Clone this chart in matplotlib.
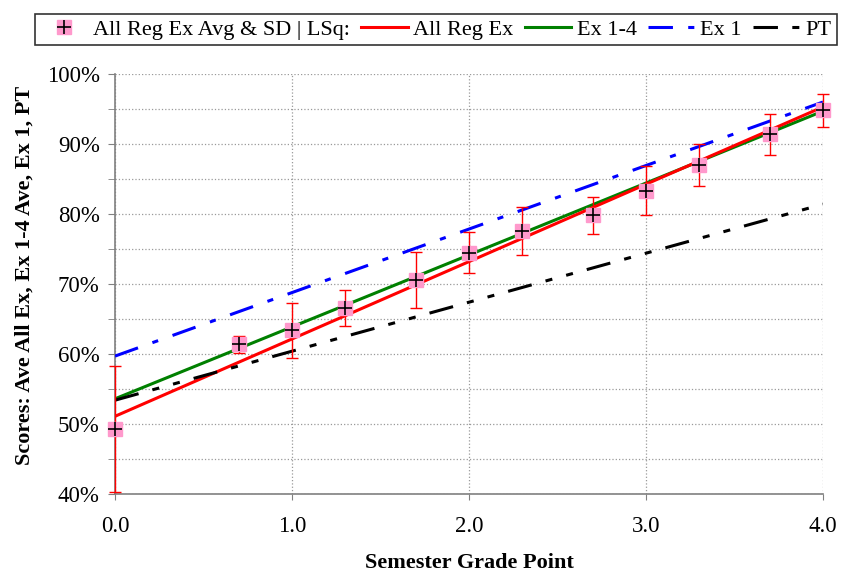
import matplotlib.pyplot as plt
import numpy as np
from matplotlib.lines import Line2D
from matplotlib.legend_handler import HandlerTuple
from matplotlib.ticker import MultipleLocator, FuncFormatter

plt.rcParams['font.family'] = ['Liberation Serif', 'DejaVu Serif']

# averages and SD of all regular exams per semester grade point
gp = [0.0, 0.7, 1.0, 1.3, 1.7, 2.0, 2.3, 2.7, 3.0, 3.3, 3.7, 4.0]
avg = [49.3, 61.4, 63.4, 66.6, 70.6, 74.5, 77.6, 79.8, 83.3, 87.0, 91.4, 94.8]
sd = [9.0, 1.2, 3.9, 2.6, 4.0, 2.9, 3.4, 2.7, 3.5, 3.0, 2.9, 2.4]

# least squares lines, values at grade point 0 and 4
fit_x = [0.0, 4.0]
fit_all = [51.1, 95.3]
fit_ex14 = [53.6, 94.7]
fit_ex1 = [59.7, 96.0]
fit_pt = [53.4, 81.4]

dash_dot = (8, 5, 2, 5)
dash_dot_dot = (8, 4.7, 2.3, 4.7, 2.3, 4.7)

fig = plt.figure(figsize=(8.42, 5.73), dpi=100)
ax = fig.add_axes([115/842, 1-494/573, 708/842, 420/573])

ax.plot(fit_x, fit_ex14, color='#008000', lw=2.2, zorder=3)
ax.plot(fit_x, fit_all, color='#ff0000', lw=2.2, zorder=3)
ax.plot(fit_x, fit_ex1, color='#0000ff', lw=2.2, dashes=dash_dot, zorder=3)
ax.plot(fit_x, fit_pt, color='black', lw=2.2, dashes=dash_dot_dot, zorder=3)

ax.errorbar(gp, avg, yerr=sd, fmt='none', ecolor='#ff0000', elinewidth=1,
            capsize=4, capthick=1, zorder=4, clip_on=False)
ax.plot(gp, avg, 's', ms=10, mfc='#ff99cc', mec='#ff99cc', zorder=5, clip_on=False)
ax.plot(gp, avg, '+', ms=10, mew=1.2, color='black', zorder=6, clip_on=False)

ax.set_xlim(0, 4)
ax.set_ylim(40, 100)
ax.xaxis.set_major_locator(MultipleLocator(1))
ax.yaxis.set_major_locator(MultipleLocator(10))
ax.yaxis.set_minor_locator(MultipleLocator(5))
ax.xaxis.set_major_formatter(FuncFormatter(lambda v, p: f'{v:.1f}'))
ax.yaxis.set_major_formatter(FuncFormatter(lambda v, p: f'{v:.0f}%'))
ax.grid(True, which='both', axis='y', color='#999999', ls=':', lw=0.9)
ax.grid(True, which='major', axis='x', color='#999999', ls=':', lw=0.9)
ax.set_axisbelow(True)

for s in ['top', 'right']:
    ax.spines[s].set_visible(False)
for s in ['left', 'bottom']:
    ax.spines[s].set_color('#808080')
    ax.spines[s].set_linewidth(1.2)
ax.tick_params(which='both', colors='#808080', labelcolor='black', labelsize=16.5)
ax.tick_params(axis='y', which='both', length=5, pad=6)
ax.tick_params(axis='x', which='both', length=4.5, pad=11)

ax.set_xlabel('Semester Grade Point', fontsize=16, fontweight='bold', labelpad=12)
ax.set_ylabel('Scores: Ave All Ex, Ex 1-4 Ave, Ex 1, PT', fontsize=16,
              fontweight='bold')
ax.yaxis.set_label_coords(-0.114, 0.521)

handles = [
    (Line2D([], [], marker='s', ms=10, mfc='#ff99cc', mec='#ff99cc', ls='none'),
     Line2D([], [], marker='+', ms=10, mew=1.2, color='black', ls='none')),
    Line2D([], [], color='#ff0000', lw=2.2),
    Line2D([], [], color='#008000', lw=2.2),
    Line2D([], [], color='#0000ff', lw=2.2, dashes=dash_dot),
    Line2D([], [], color='black', lw=2.2, dashes=dash_dot_dot),
]
labels = ['All Reg Ex Avg & SD | LSq:', 'All Reg Ex', 'Ex 1-4', 'Ex 1', 'PT']
leg = fig.legend(handles, labels, loc='center', bbox_to_anchor=(436/842, 1-29.5/573),
                 ncol=5, frameon=True, fancybox=False, fontsize=16,
                 handlelength=2.1, handletextpad=0.25, columnspacing=0.5,
                 borderpad=0.25, borderaxespad=0,
                 handler_map={tuple: HandlerTuple(ndivide=1)})
leg.get_frame().set_edgecolor('black')
leg.get_frame().set_linewidth(1.2)

fig.savefig('out.png', dpi=100)
